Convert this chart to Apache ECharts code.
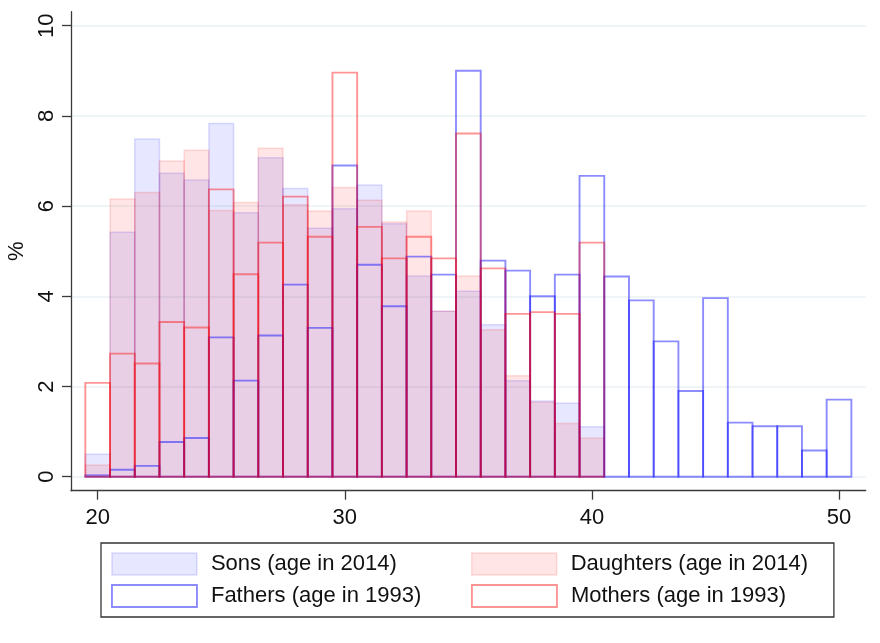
<!DOCTYPE html>
<html>
<head>
<meta charset="utf-8">
<script src="https://cdn.jsdelivr.net/npm/echarts@6/dist/echarts.min.js"></script>
<style>html,body{margin:0;padding:0;background:#fff}#c{width:880px;height:643px}</style>
</head>
<body>
<div id="c"></div>
<script>
// Bin centres start at age 20, bins of width 1
const START_AGE = 20;
const xTicks = [20, 30, 40, 50];
const yTicks = [0, 2, 4, 6, 8, 10];
// ages 20..40
const sons =      [0.50, 5.42, 7.49, 6.73, 6.58, 7.83, 5.85, 7.07, 6.39, 5.51, 5.94, 6.47, 5.61, 4.45, 3.67, 4.11, 3.37, 2.13, 1.68, 1.63, 1.11];
const daughters = [0.26, 6.16, 6.30, 7.00, 7.24, 5.90, 6.08, 7.28, 6.03, 5.89, 6.41, 6.13, 5.65, 5.89, 3.67, 4.45, 3.26, 2.24, 1.65, 1.18, 0.86];
const mothers =   [2.08, 2.73, 2.51, 3.43, 3.31, 6.37, 4.49, 5.19, 6.21, 5.32, 8.96, 5.54, 4.84, 5.32, 4.84, 7.61, 4.62, 3.61, 3.65, 3.61, 5.19];
// ages 20..50
const fathers =   [0.03, 0.155, 0.24, 0.77, 0.86, 3.09, 2.13, 3.13, 4.26, 3.30, 6.90, 4.70, 3.78, 4.88, 4.48, 9.00, 4.79, 4.57, 4.00, 4.48, 6.67, 4.44, 3.91, 3.00, 1.90, 3.96, 1.20, 1.12, 1.12, 0.58, 1.71];

const names = ['Sons (age in 2014)', 'Daughters (age in 2014)', 'Fathers (age in 1993)', 'Mothers (age in 1993)'];
const FONT = "'Liberation Sans', Arial, sans-serif";

const styles = [
  {fill: 'rgba(0,0,255,0.095)', stroke: 'rgba(0,0,255,0.13)', lineWidth: 1.5},
  {fill: 'rgba(255,0,0,0.1)', stroke: 'rgba(255,0,0,0.13)', lineWidth: 1.5},
  {fill: 'none', stroke: 'rgba(0,0,255,0.45)', lineWidth: 1.9},
  {fill: 'none', stroke: 'rgba(255,0,0,0.42)', lineWidth: 1.9}
];

function makeSeries(idx, vals) {
  const st = styles[idx];
  return {
    type: 'custom',
    name: names[idx],
    z: 2 + idx,
    encode: {x: 0, y: 1},
    data: vals.map((v, i) => [START_AGE + i, v]),
    renderItem: function (params, api) {
      const x = api.value(0), y = api.value(1);
      const p0 = api.coord([x - 0.5, y]);
      const p1 = api.coord([x + 0.5, 0]);
      return {
        type: 'rect',
        shape: {x: p0[0], y: p0[1], width: p1[0] - p0[0], height: p1[1] - p0[1]},
        style: {fill: st.fill, stroke: st.stroke, lineWidth: st.lineWidth}
      };
    }
  };
}

const chart = echarts.init(document.getElementById('c'), null, {renderer: 'canvas'});
chart.setOption({
  animation: false,
  backgroundColor: '#fff',
  grid: {left: 71, right: 14.3, top: 11.7, bottom: 152.3, containLabel: false, outerBoundsMode: 'none'},
  xAxis: {
    type: 'value', min: 18.92, max: 51.08,
    axisLine: {show: true, onZero: false, lineStyle: {color: '#3a3a3a', width: 1.3}},
    axisTick: {show: true, length: 9, customValues: xTicks, lineStyle: {color: '#3a3a3a', width: 1.3}},
    axisLabel: {customValues: xTicks, margin: 16, fontSize: 22, fontFamily: FONT, color: '#111'},
    splitLine: {show: false}
  },
  yAxis: {
    type: 'value', min: -0.31, max: 10.31,
    name: '%', nameLocation: 'middle', nameRotate: 90, nameGap: 42,
    nameTextStyle: {fontSize: 22, fontFamily: FONT, color: '#111'},
    axisLine: {show: true, onZero: false, lineStyle: {color: '#3a3a3a', width: 1.3}},
    axisTick: {show: true, length: 9, customValues: yTicks, lineStyle: {color: '#3a3a3a', width: 1.3}},
    axisLabel: {customValues: yTicks, rotate: 90, margin: 13, fontSize: 22, fontFamily: FONT, color: '#111'},
    splitLine: {show: true, lineStyle: {color: '#eaf1f3', width: 1.5}}
  },
  legend: {
    left: 101, top: 543, orient: 'horizontal', width: 722,
    padding: [5, 3, 5, 10], itemGap: 0,
    itemWidth: 85, itemHeight: 22,
    borderColor: '#333', borderWidth: 1.3,
    selectedMode: false,
    textStyle: {fontSize: 22, fontFamily: FONT, color: '#111', width: 260, lineHeight: 32, padding: [0, 0, 0, 9], overflow: 'none'},
    data: [
      {name: names[0], icon: 'rect', itemStyle: {color: 'rgba(0,0,255,0.095)', borderColor: 'rgba(0,0,255,0.13)', borderWidth: 1.5}},
      {name: names[1], icon: 'rect', itemStyle: {color: 'rgba(255,0,0,0.1)', borderColor: 'rgba(255,0,0,0.13)', borderWidth: 1.5}},
      {name: names[2], icon: 'rect', itemStyle: {color: '#fff', borderColor: 'rgba(0,0,255,0.45)', borderWidth: 1.9}},
      {name: names[3], icon: 'rect', itemStyle: {color: '#fff', borderColor: 'rgba(255,0,0,0.42)', borderWidth: 1.9}}
    ]
  },
  series: [
    makeSeries(0, sons),
    makeSeries(1, daughters),
    makeSeries(2, fathers),
    makeSeries(3, mothers)
  ]
});
</script>
</body>
</html>
